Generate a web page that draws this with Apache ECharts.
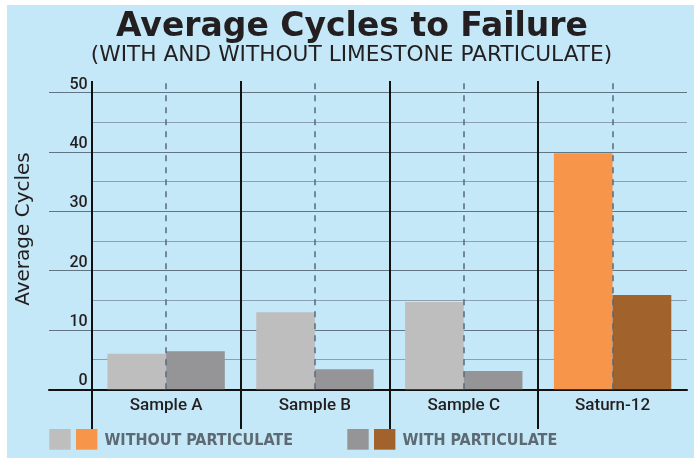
<!DOCTYPE html>
<html>
<head>
<meta charset="utf-8">
<script src="https://cdn.jsdelivr.net/npm/echarts@6/dist/echarts.min.js"></script>
<style>
  html, body { margin: 0; padding: 0; background: #fff; }
  #chart { width: 694px; height: 458px; }
</style>
</head>
<body>
<div id="chart"></div>
<script>
// data
var categories = ['Sample A', 'Sample B', 'Sample C', 'Saturn-12'];
var withoutParticulate = [6.0, 13.0, 14.7, 39.8];
var withParticulate = [6.4, 3.4, 3.1, 15.9];
var yTicks = [0, 10, 20, 30, 40, 50];
var seriesNames = ['WITHOUT PARTICULATE', 'WITH PARTICULATE'];

// colours (Saturn-12 is the highlighted product)
var withoutColors = ['#bebebf', '#bebebf', '#bebebf', '#f7964a'];
var withColors = ['#959598', '#959598', '#959598', '#a2622c'];

var ink = '#231f20';
var majorLine = '#627584';
var minorLine = '#8aa1b2';
var narrow = "'DejaVu Sans Condensed', sans-serif";

function bars(values, colors) {
  return values.map(function (v, i) {
    return { value: v, itemStyle: { color: colors[i] } };
  });
}

function legendFor(name, c1, c2) {
  return {
    data: [name],
    icon: 'none',
    itemWidth: 0,
    itemHeight: 0,
    padding: 0,
    top: 429,
    selectedMode: false,
    formatter: function (n) { return '{a|}{s|}{b|}{t|' + n + '}'; },
    textStyle: {
      fontFamily: narrow,
      fontSize: 16,
      fontWeight: 'bold',
      color: '#5e6a73',
      rich: {
        a: { backgroundColor: c1, width: 21.4, height: 20.7 },
        s: { width: 5.3 },
        b: { backgroundColor: c2, width: 21.4, height: 20.7 },
        t: { padding: [2, 0, 0, 7] }
      }
    }
  };
}

var yMin = yTicks[0], yMax = yTicks[yTicks.length - 1], yStep = yTicks[1] - yTicks[0];

var chart = echarts.init(document.getElementById('chart'));
chart.setOption({
  animation: false,
  graphic: [{
    type: 'rect', left: 7, top: 5, z: -10,
    shape: { width: 687, height: 453 },
    style: { fill: '#c5e8f8' }
  }],
  title: [{
    text: 'Average Cycles to Failure',
    left: 352, textAlign: 'center', top: 11, padding: 0,
    textStyle: { fontFamily: 'DejaVu Sans', fontSize: 33, fontWeight: 'bold', color: ink }
  }, {
    text: '(WITH AND WITHOUT LIMESTONE PARTICULATE)',
    left: 351.5, textAlign: 'center', top: 44, padding: 0,
    textStyle: { fontFamily: 'DejaVu Sans', fontSize: 21.7, fontWeight: 'normal', color: ink }
  }],
  legend: [
    Object.assign(legendFor(seriesNames[0], withoutColors[0], withoutColors[3]), { left: 44.3 }),
    Object.assign(legendFor(seriesNames[1], withColors[0], withColors[3]), { left: 342.3 })
  ],
  grid: [
    { left: 49, right: 7, top: 92.7, bottom: 68.7 },   // major gridlines + baseline
    { left: 91.7, right: 7, top: 92.7, bottom: 68.7 }, // bars
    { left: 91.7, right: 7, top: 81, bottom: 29 }      // separators / guides
  ],
  xAxis: [{
    gridIndex: 0, type: 'value', min: 0, max: 1,
    axisLine: { show: true, lineStyle: { color: '#111', width: 2 } },
    axisTick: { show: false }, axisLabel: { show: false }, splitLine: { show: false }
  }, {
    gridIndex: 1, type: 'category', data: categories,
    axisLine: { show: false }, axisTick: { show: false },
    axisLabel: { margin: 8, fontFamily: 'Roboto', fontWeight: 500, fontSize: 17, color: ink }
  }, {
    gridIndex: 2, type: 'value', min: 0, max: categories.length, interval: 1,
    axisLine: { show: false }, axisTick: { show: false }, axisLabel: { show: false },
    splitLine: { show: true, showMinLine: true, showMaxLine: false, lineStyle: { color: '#111', width: 2 } }
  }],
  yAxis: [{
    gridIndex: 0, type: 'value', min: yMin, max: yMax, interval: yStep,
    axisLine: { show: false }, axisTick: { show: false }, axisLabel: { show: false },
    splitLine: { show: true, showMinLine: false, lineStyle: { color: majorLine, width: 1 } }
  }, {
    gridIndex: 1, type: 'value', min: yMin, max: yMax, interval: yStep,
    name: 'Average Cycles', nameLocation: 'middle', nameGap: 58,
    nameTextStyle: { fontFamily: 'DejaVu Sans', fontSize: 20, color: ink, padding: [0, 0, 0, 24] },
    axisLine: { show: false }, axisTick: { show: false },
    axisLabel: { margin: 4, verticalAlign: 'bottom', fontFamily: 'Roboto', fontWeight: 500, fontSize: 16, color: ink },
    splitLine: { show: false },
    minorTick: { show: false, splitNumber: 2 },
    minorSplitLine: { show: true, lineStyle: { color: minorLine, width: 1 } }
  }, {
    gridIndex: 2, type: 'value', min: -6.7, max: 52, show: false
  }],
  series: [{
    name: seriesNames[0], type: 'bar', xAxisIndex: 1, yAxisIndex: 1,
    barWidth: 58.7, barGap: '0%',
    data: bars(withoutParticulate, withoutColors)
  }, {
    name: seriesNames[1], type: 'bar', xAxisIndex: 1, yAxisIndex: 1,
    barWidth: 58.7, barGap: '0%',
    data: bars(withParticulate, withColors)
  }, {
    name: 'guides', type: 'line', xAxisIndex: 2, yAxisIndex: 2, data: [], clip: false,
    markLine: {
      silent: true, symbol: 'none', label: { show: false },
      lineStyle: { color: '#55697a', width: 1.5, type: [6, 6] },
      data: categories.map(function (c, i) {
        return [{ xAxis: i + 0.5, yAxis: 0 }, { xAxis: i + 0.5, yAxis: 52 }];
      })
    }
  }]
});
</script>
</body>
</html>
